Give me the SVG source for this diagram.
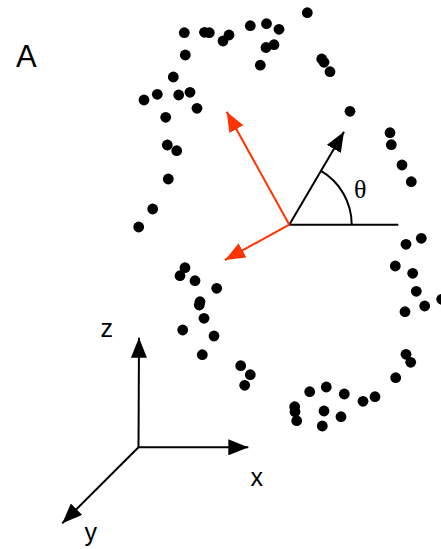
<svg xmlns="http://www.w3.org/2000/svg" width="441" height="549" viewBox="0 0 441 549">
<style>
.d{fill:#000}
.k{stroke:#000;stroke-width:2;fill:none}
.r{stroke:#ff3300;stroke-width:2;fill:none}
.lbl{font-family:"Liberation Sans",Arial,sans-serif;fill:#000}
</style>
<defs>
<marker id="ak" viewBox="0 0 10 8" refX="10" refY="4" markerWidth="10" markerHeight="8" orient="auto" markerUnits="strokeWidth"><path d="M0,0 L10,4 L0,8 z" fill="#000"/></marker>
<marker id="ar" viewBox="0 0 10 8" refX="10" refY="4" markerWidth="10" markerHeight="8" orient="auto" markerUnits="strokeWidth"><path d="M0,0 L10,4 L0,8 z" fill="#ff3300"/></marker>
</defs>
<rect width="441" height="549" fill="#fff"/>
<text class="lbl" x="16" y="67" font-size="31">A</text>
<g id="points">
<circle class="d" cx="184.3" cy="32.7" r="5.4"/>
<circle class="d" cx="204.5" cy="32.3" r="5.4"/>
<circle class="d" cx="209.3" cy="32.7" r="5.4"/>
<circle class="d" cx="223" cy="41" r="5.4"/>
<circle class="d" cx="229" cy="35" r="5.4"/>
<circle class="d" cx="250.3" cy="25.7" r="5.4"/>
<circle class="d" cx="266.5" cy="23.7" r="5.4"/>
<circle class="d" cx="279" cy="29.3" r="5.4"/>
<circle class="d" cx="266" cy="47.5" r="5.4"/>
<circle class="d" cx="274" cy="44.7" r="5.4"/>
<circle class="d" cx="260.3" cy="65.2" r="5.4"/>
<circle class="d" cx="185.3" cy="55" r="5.4"/>
<circle class="d" cx="173.3" cy="77" r="5.4"/>
<circle class="d" cx="144" cy="100" r="5.4"/>
<circle class="d" cx="157.3" cy="94.3" r="5.4"/>
<circle class="d" cx="178.7" cy="95" r="5.4"/>
<circle class="d" cx="190" cy="92.3" r="5.4"/>
<circle class="d" cx="197" cy="108.3" r="5.4"/>
<circle class="d" cx="165.7" cy="117.3" r="5.4"/>
<circle class="d" cx="307.3" cy="12.7" r="5.4"/>
<circle class="d" cx="321.7" cy="59" r="5.4"/>
<circle class="d" cx="324" cy="62.3" r="5.4"/>
<circle class="d" cx="330" cy="71.7" r="5.4"/>
<circle class="d" cx="350" cy="111.3" r="5.4"/>
<circle class="d" cx="390" cy="132.7" r="5.4"/>
<circle class="d" cx="391.3" cy="144.7" r="5.4"/>
<circle class="d" cx="402" cy="165" r="5.4"/>
<circle class="d" cx="411.3" cy="181.7" r="5.4"/>
<circle class="d" cx="167.3" cy="145" r="5.4"/>
<circle class="d" cx="176.7" cy="150.7" r="5.4"/>
<circle class="d" cx="168.3" cy="179" r="5.4"/>
<circle class="d" cx="152.7" cy="209" r="5.4"/>
<circle class="d" cx="138.7" cy="227" r="5.4"/>
<circle class="d" cx="185" cy="267.7" r="5.4"/>
<circle class="d" cx="180" cy="275.7" r="5.4"/>
<circle class="d" cx="195" cy="280.7" r="5.4"/>
<circle class="d" cx="216.7" cy="288.3" r="5.4"/>
<circle class="d" cx="200" cy="301.7" r="5.4"/>
<circle class="d" cx="199.3" cy="305" r="5.4"/>
<circle class="d" cx="204" cy="318.3" r="5.4"/>
<circle class="d" cx="182.7" cy="330" r="5.4"/>
<circle class="d" cx="214" cy="336" r="5.4"/>
<circle class="d" cx="202.3" cy="354.7" r="5.4"/>
<circle class="d" cx="240.7" cy="365.7" r="5.4"/>
<circle class="d" cx="250.3" cy="374.7" r="5.4"/>
<circle class="d" cx="244.7" cy="385.3" r="5.4"/>
<circle class="d" cx="406" cy="244.3" r="5.4"/>
<circle class="d" cx="421.3" cy="238.3" r="5.4"/>
<circle class="d" cx="395.3" cy="266" r="5.4"/>
<circle class="d" cx="412.7" cy="273.3" r="5.4"/>
<circle class="d" cx="416.3" cy="291.3" r="5.4"/>
<circle class="d" cx="424.7" cy="306" r="5.4"/>
<circle class="d" cx="441.7" cy="299.3" r="5.4"/>
<circle class="d" cx="405" cy="311.7" r="5.4"/>
<circle class="d" cx="406" cy="354.3" r="5.4"/>
<circle class="d" cx="410.7" cy="362.3" r="5.4"/>
<circle class="d" cx="395.7" cy="377.7" r="5.4"/>
<circle class="d" cx="375" cy="396.7" r="5.4"/>
<circle class="d" cx="363" cy="401.3" r="5.4"/>
<circle class="d" cx="344.3" cy="394" r="5.4"/>
<circle class="d" cx="326.3" cy="387" r="5.4"/>
<circle class="d" cx="309.7" cy="391.7" r="5.4"/>
<circle class="d" cx="294.7" cy="406.7" r="5.4"/>
<circle class="d" cx="295" cy="411.7" r="5.4"/>
<circle class="d" cx="296.7" cy="420.7" r="5.4"/>
<circle class="d" cx="324" cy="411" r="5.4"/>
<circle class="d" cx="341" cy="416.7" r="5.4"/>
<circle class="d" cx="322.3" cy="426" r="5.4"/>
</g>
<g id="connectors">
<line class="k" x1="289.3" y1="224.7" x2="398.3" y2="224.7"/>
<line class="k" x1="289.3" y1="224.7" x2="344" y2="131.7" marker-end="url(#ak)"/>
<path class="k" d="M351.7,224.7 A62.4,62.4 0 0 0 320.6,170.7"/>
<line class="r" x1="289.3" y1="224.7" x2="226.7" y2="111.7" marker-end="url(#ar)"/>
<line class="r" x1="289.3" y1="224.7" x2="225" y2="260" marker-end="url(#ar)"/>
<line class="k" x1="138.5" y1="447.3" x2="139" y2="337.7" marker-end="url(#ak)"/>
<line class="k" x1="138.5" y1="447.3" x2="248.3" y2="447.3" marker-end="url(#ak)"/>
<line class="k" x1="138.5" y1="447.3" x2="62.3" y2="523.3" marker-end="url(#ak)"/>
</g>
<text x="354" y="197.5" font-family="'Liberation Serif','DejaVu Serif',serif" font-size="26">θ</text>
<text class="lbl" x="100.5" y="336.5" font-size="25">z</text>
<text class="lbl" x="250.5" y="485.5" font-size="25">x</text>
<text class="lbl" x="84.5" y="541" font-size="25">y</text>
</svg>
